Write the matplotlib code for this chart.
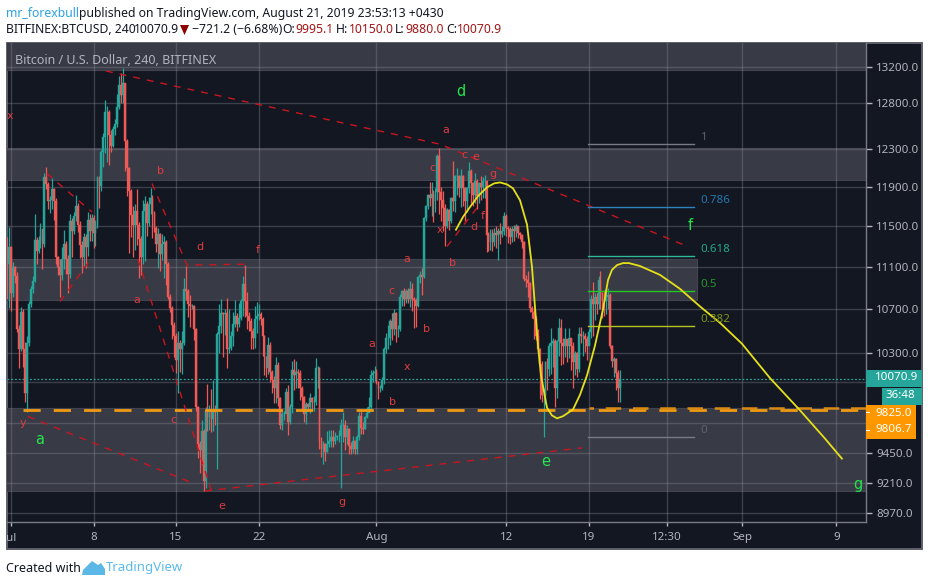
import matplotlib
matplotlib.use('Agg')
import matplotlib.pyplot as plt
from matplotlib.patches import Rectangle, Polygon
from matplotlib.ticker import FixedLocator, FixedFormatter, NullLocator
from matplotlib.transforms import Affine2D, Bbox

W, H = 929, 586
UI_FONT = 'Noto Sans'

# 4h closes, bar 0 is Jul 1 00:00, list starts two bars earlier
closes = [
    11130, 11290, 10850, 11100, 11010, 10520, 10340, 10680, 10340, 9950,
    10395, 10750, 10890, 10970, 11360, 11260, 11360, 11470, 11320, 12000,
    11930, 11750, 11760, 11880, 11750, 11195, 11100, 11025, 11175, 11320,
    11175, 11035, 11555, 11455, 11600, 11700, 11515, 11310, 11195, 11390,
    11290, 11565, 11455, 11585, 11435, 11515, 11985, 11910, 12260, 12420,
    12690, 12700, 12450, 12330, 12505, 12560, 12755, 12995, 12880, 13020,
    12380, 12090, 11860, 11610, 11515, 11650, 11515, 11370, 11195, 11650,
    11720, 11535, 11720, 11780, 11630, 11485, 11320, 11420, 11225, 11320,
    11340, 11130, 10820, 10710, 10560, 10460, 10240, 10395, 10340, 10395,
    10890, 10875, 10755, 10730, 10730, 10520, 9830, 9525, 9475, 9630,
    9220, 9795, 9745, 9795, 9730, 9795, 9790, 10475, 10545, 10665,
    10655, 10665, 10340, 10350, 10460, 10565, 10640, 10565, 10620, 10775,
    10940, 10775, 10640, 10590, 10500, 10440, 10610, 10640, 10655, 10610,
    10460, 10265, 10175, 10380, 10135, 10065, 9995, 10195, 9910, 9685,
    9770, 9770, 9960, 9705, 9830, 10150, 10110, 10135, 10125, 9995,
    9920, 9770, 9855, 9830, 9910, 9880, 9880, 10175, 10175, 9550,
    9480, 9525, 9460, 9525, 9550, 9580, 9550, 9580, 9590, 9590,
    9685, 9685, 9580, 9645, 9510, 9485, 9550, 9485, 9580, 9755,
    9660, 9645, 9745, 9785, 9830, 10110, 10125, 10135, 10050, 9995,
    9995, 10065, 10340, 10440, 10440, 10590, 10520, 10665, 10520, 10520,
    10820, 10875, 10800, 10875, 10800, 10895, 10800, 10790, 10730, 11005,
    11025, 11005, 11585, 11700, 11815, 11780, 11830, 11750, 11850, 12220,
    11850, 11760, 11680, 11500, 11665, 11550, 11780, 11750, 12010, 12010,
    11885, 12010, 11885, 11750, 11885, 12065, 11935, 11815, 11960, 11800,
    11935, 11900, 11960, 11960, 11415, 11340, 11435, 11340, 11435, 11415,
    11455, 11425, 11455, 11600, 11485, 11470, 11390, 11470, 11455, 11500,
    11435, 11415, 11340, 10990, 10975, 10945, 10710, 10680, 10610, 10460,
    10340, 10210, 9935, 9935, 10220, 10165, 10370, 10395, 10415, 9995,
    10415, 10530, 10395, 10370, 10430, 10370, 10440, 10370, 10220, 10300,
    10165, 10475, 10460, 10460, 10430, 10370, 10490, 10800, 10750, 10820,
    10755, 10975, 10845, 10790, 10775, 10820, 10835, 10370, 10235, 10250,
    10130, 9995.1, 10070.9,
]
highs = [
    11390, 11490, 11300, 11150, 11110, 11050, 10560, 10720, 10700, 10400,
    10460, 10780, 10920, 11010, 11620, 11390, 11400, 11530, 11400, 12040,
    12100, 11950, 11800, 11990, 11890, 11780, 11210, 11180, 11290, 11460,
    11350, 11220, 11620, 11580, 11640, 11810, 11730, 11550, 11350, 11430,
    11420, 11640, 11620, 11620, 11610, 11560, 12010, 12010, 12280, 12470,
    12830, 12760, 12720, 12500, 12540, 12620, 12900, 13100, 13130, 13186,
    13020, 12400, 12100, 11880, 11700, 11720, 11880, 11540, 11400, 11760,
    11800, 11750, 11790, 11890, 11810, 11650, 11500, 11480, 11430, 11420,
    11400, 11360, 11150, 10840, 10730, 10580, 10480, 10500, 10420, 10500,
    11000, 11110, 10890, 10830, 10750, 10740, 10530, 9840, 9550, 9720,
    9650, 9830, 10030, 9850, 9990, 10065, 9850, 10490, 10750, 10800,
    10680, 10700, 10810, 10700, 10500, 10680, 10790, 10670, 10760, 10800,
    11010, 11120, 10860, 10680, 10620, 10530, 10730, 10770, 10750, 10680,
    10630, 10470, 10280, 10450, 10400, 10150, 10100, 10270, 10220, 9920,
    9800, 9800, 10000, 10020, 9860, 10235, 10250, 10230, 10160, 10150,
    10010, 9930, 9880, 9870, 9950, 9920, 9930, 10255, 10190, 10180,
    9580, 9550, 9530, 9630, 9640, 9640, 9640, 9620, 9600, 9640,
    9730, 9790, 9720, 9680, 9660, 9540, 9590, 9560, 9600, 9790,
    9800, 9710, 9760, 9830, 9920, 10150, 10150, 10190, 10160, 10060,
    10020, 10090, 10360, 10480, 10560, 10610, 10670, 10700, 10680, 10560,
    10840, 10880, 10900, 10890, 10900, 10970, 10950, 10820, 10810, 11010,
    11060, 11090, 11590, 11710, 11830, 11950, 11950, 11870, 11890, 12240,
    12310, 11900, 11860, 11720, 11680, 11670, 11790, 12170, 12020, 12090,
    12020, 12080, 12020, 11900, 11900, 12160, 12080, 11950, 12040, 11980,
    11950, 12010, 12000, 12020, 11970, 11440, 11470, 11470, 11480, 11500,
    11480, 11530, 11500, 11640, 11620, 11500, 11490, 11500, 11510, 11520,
    11500, 11440, 11420, 11350, 11020, 11060, 10960, 10730, 10700, 10640,
    10520, 10350, 10230, 10000, 10230, 10260, 10390, 10530, 10440, 10430,
    10420, 10620, 10610, 10440, 10530, 10410, 10530, 10440, 10400, 10320,
    10310, 10540, 10540, 10500, 10480, 10460, 10520, 10830, 10960, 10850,
    10850, 11010, 11060, 10860, 10880, 10890, 10900, 10850, 10380, 10270,
    10260, 10150, 10150,
]
lows = [
    10800, 10710, 10690, 10820, 10950, 10490, 10170, 10320, 10180, 9880,
    9790, 10370, 10720, 10850, 10960, 11130, 11240, 11280, 11080, 11290,
    11880, 11670, 11630, 11670, 11560, 11130, 11020, 10820, 10980, 11080,
    11030, 10850, 11000, 11200, 11420, 11550, 11440, 11190, 11040, 11110,
    11090, 11210, 11350, 11350, 11280, 11300, 11480, 11680, 11860, 12110,
    12250, 12160, 12130, 12260, 12320, 12450, 12530, 12730, 12800, 12800,
    12060, 11800, 11240, 11390, 11200, 11270, 11310, 11000, 11020, 11130,
    11160, 11400, 11500, 11620, 11380, 11440, 11250, 11090, 11060, 11170,
    11000, 10930, 10800, 10680, 10430, 10270, 10130, 9950, 10140, 10120,
    10380, 10790, 10630, 10540, 10700, 10420, 9800, 9410, 9290, 9350,
    9140, 9170, 9630, 9640, 9620, 9630, 9680, 9320, 10300, 10480,
    10270, 10470, 10170, 10300, 10330, 10370, 10540, 10500, 10540, 10600,
    10640, 10630, 10520, 10500, 10340, 10340, 10350, 10480, 10600, 10560,
    10280, 10110, 10090, 10120, 10050, 9950, 9870, 9870, 9840, 9645,
    9640, 9720, 9780, 9600, 9690, 9780, 9980, 10000, 10000, 9890,
    9820, 9710, 9690, 9800, 9780, 9820, 9800, 9850, 10000, 9480,
    9420, 9360, 9380, 9460, 9500, 9500, 9500, 9520, 9560, 9540,
    9165, 9540, 9470, 9520, 9440, 9440, 9450, 9440, 9440, 9560,
    9610, 9610, 9650, 9740, 9790, 9800, 10050, 10060, 10030, 9900,
    9960, 9980, 10030, 10300, 10340, 10380, 10420, 10470, 10400, 10450,
    10500, 10730, 10730, 10760, 10760, 10720, 10690, 10530, 10540, 10720,
    10950, 10830, 11000, 11550, 11670, 11700, 11600, 11540, 11640, 11760,
    11620, 11550, 11450, 11300, 11480, 11460, 11530, 11650, 11640, 11810,
    11790, 11690, 11700, 11550, 11640, 11840, 11730, 11700, 11730, 11670,
    11730, 11760, 11780, 11780, 11250, 11260, 11270, 11260, 11300, 11280,
    11170, 11320, 11390, 11410, 11400, 11330, 11320, 11340, 11350, 11390,
    11380, 11370, 11280, 10970, 10910, 10820, 10680, 10620, 10430, 10420,
    10300, 9900, 9880, 9580, 9860, 9980, 10100, 10120, 10180, 9830,
    9910, 10280, 10200, 10210, 10270, 10220, 10260, 10150, 10000, 10110,
    10090, 10140, 10390, 10280, 10310, 10240, 10380, 10440, 10460, 10600,
    10660, 10700, 10700, 10620, 10640, 10660, 10700, 10350, 10180, 10090,
    9980, 9880, 9880,
]
first_open = 11290

# grey zones: low price, high price, last day
zone_lows = [13166, 11970, 10790, 9140]
zone_highs = [13600, 12310, 11175, 9825]
zone_ends = [72.6, 72.6, 58.2, 72.6]

# dashed red wave lines
trend_days = [
    [8.06, 36.39, 57.17],
    [3.05, 6.87],
    [4.16, 6.53],
    [11.96, 14.93, 20.02],
    [10.77, 17.05],
    [1.44, 15.44],
    [16.45, 48.43],
    [36.98, 39.52],
]
trend_prices = [
    [13154, 12346, 11310],
    [12035, 11642],
    [10774, 11138],
    [11933, 11119, 11128],
    [11176, 9127],
    [9753, 9205],
    [9143, 9491],
    [11300, 11682],
]

# yellow hand drawn curve
curve_days = [37.74, 38.34, 38.93, 39.61, 40.37, 40.97, 41.48, 42.07, 42.58, 43.17,
              43.77, 44.19, 44.44, 44.70, 44.95, 45.46, 45.88, 46.31, 46.82, 47.67,
              48.26, 48.86, 49.53, 50.21, 50.64, 50.97, 51.40, 51.91, 52.42, 53.35,
              55.05, 56.74, 58.44, 60.14, 62.0, 64.38, 66.93, 69.04, 70.48]
curve_prices = [11465, 11593, 11692, 11803, 11893, 11934, 11944, 11924, 11883, 11762,
                11515, 11100, 10728, 10369, 10108, 9828, 9762, 9737, 9755, 9812,
                9937, 10108, 10369, 10700, 10977, 11072, 11119, 11138, 11138, 11110,
                11025, 10893, 10728, 10576, 10387, 10082, 9804, 9568, 9403]

fib_labels = ['1', '0.786', '0.618', '0.5', '0.382', '0']
fib_prices = [12345, 11693, 11209, 10875, 10545, 9580]
fib_line_colors = ['#787b86', '#2b83ba', '#2fb89a', '#22c722', '#b4c41e', '#787b86']
fib_text_colors = ['#5f626c', '#2478ad', '#23a884', '#26962c', '#7f9418', '#5f626c']
fib_start, fib_end = 48.95, 57.9

last_close = 10070.9
stop_low = 9806.7
stop_high = 9825.0

price_ticks = [13200, 12800, 12300, 11900, 11500, 11100, 10700, 10300, 10050, 9700, 9450, 9210, 8970]
date_ticks = [0, 7, 14, 21, 31, 42, 49, 55.65, 62, 70]
date_labels = ['Jul', '8', '15', '22', 'Aug', '12', '19', '12:30', 'Sep', '9']

# wave labels, pixel position on the picture
red_waves = [('x', 10, 116), ('b', 161, 171), ('a', 137, 300), ('d', 200, 247), ('f', 258, 250),
             ('y', 23, 423), ('c', 173, 420), ('e', 222, 506), ('g', 342, 502), ('a', 372, 344),
             ('c', 391, 291), ('a', 407, 259), ('b', 427, 329), ('x', 407, 367), ('b', 393, 402),
             ('b', 452, 263), ('c', 432, 168), ('a', 446, 130), ('c', 464, 155), ('e', 476, 157),
             ('g', 493, 174), ('x', 440, 230), ('f', 483, 216), ('d', 474, 227)]
green_waves = [('d', 461, 91), ('a', 40, 439), ('e', 546, 461), ('f', 690, 226), ('g', 858, 484),
               ('e', 369, 527)]

BG = '#131722'
TEAL = '#26a69a'
RED = '#f05a56'
ORANGE = '#ff9800'
AXIS_TEXT = '#b2b5be'

fig = plt.figure(figsize=(W / 100, H / 100), dpi=100, facecolor='white')
pix = Affine2D().scale(1, -1).translate(0, H)  # picture pixels, origin top left


def page_text(x, y, s, **kw):
    kw.setdefault('family', UI_FONT)
    kw.setdefault('va', 'center')
    return fig.text(x, y, s, transform=pix, **kw)


fig.add_artist(Rectangle((6.5, 43), 915.5, 506, transform=pix, facecolor=BG,
                         edgecolor='#5d606b', linewidth=1.4, zorder=-1))

ax = fig.add_axes([7 / W, 1 - 522 / H, 859 / W, 479 / H])
ax.set_facecolor('none')
ax.set_yscale('log')
ax.set_xlim(-0.339, 72.52)
ax.set_ylim(8901, 13477)

for low, high, end in zip(zone_lows, zone_highs, zone_ends):
    ax.add_patch(Rectangle((-1, low), end + 1, high - low, facecolor='#383b45',
                           edgecolor='#42454f', linewidth=0.8, zorder=1))

ax.set_axisbelow('line')
ax.grid(True, color='#8a8d9a', alpha=0.35, linewidth=1)

ax.yaxis.tick_right()
ax.yaxis.set_major_locator(FixedLocator(price_ticks))
ax.yaxis.set_major_formatter(FixedFormatter(['%.1f' % p for p in price_ticks]))
ax.yaxis.set_minor_locator(NullLocator())
ax.xaxis.set_major_locator(FixedLocator(date_ticks))
ax.xaxis.set_major_formatter(FixedFormatter(date_labels))
ax.tick_params(axis='y', length=4, width=1, color=AXIS_TEXT, labelcolor=AXIS_TEXT, labelsize=8.3, pad=3.5)
ax.tick_params(axis='x', length=3, width=1, color=AXIS_TEXT, labelcolor=AXIS_TEXT, labelsize=8.3, pad=4.5)
for lab in ax.get_xticklabels() + ax.get_yticklabels():
    lab.set_family(UI_FONT)
# 'Jul' is cut by the chart frame
for lab in ax.get_xticklabels():
    lab.set_clip_on(True)
    lab.set_clip_box(Bbox([[7, 0], [W, H]]))
for side in ['top', 'left']:
    ax.spines[side].set_visible(False)
for side in ['right', 'bottom']:
    ax.spines[side].set_color('#787b86')
    ax.spines[side].set_linewidth(1)

# candles
days = [(i - 2) / 6 for i in range(len(closes))]
opens = [first_open] + closes[:-1]
colors = [TEAL if c >= o else RED for o, c in zip(opens, closes)]
ax.vlines(days, lows, highs, colors=colors, linewidth=0.9, zorder=3)
ax.bar(days, [abs(c - o) for o, c in zip(opens, closes)], bottom=[min(o, c) for o, c in zip(opens, closes)],
       width=0.155, color=colors, edgecolor=colors, linewidth=0.3, zorder=3)

# last price and stop levels
ax.axhline(last_close, color=TEAL, linewidth=0.9, linestyle=(0, (1.5, 1.5)), zorder=2)
ax.plot([1.0, 72.6], [stop_low, stop_low], color='#ef9a12', linewidth=2,
        linestyle=(0, (6.2, 4.7)), zorder=4)
ax.plot([49.0, 72.6], [stop_high, stop_high], color='#d98a14', linewidth=1.8,
        linestyle=(4.4, (6.2, 4.7)), zorder=4)

for d, p in zip(trend_days, trend_prices):
    ax.plot(d, p, color='#c9151e', linewidth=1, linestyle=(0, (5, 5)), zorder=4)

ax.plot(curve_days, curve_prices, color='#e6e01a', linewidth=1.3, zorder=5)

for name, p, lc, tc in zip(fib_labels, fib_prices, fib_line_colors, fib_text_colors):
    ax.plot([fib_start, fib_end], [p, p], color=lc, linewidth=1, zorder=4)
    ax.text(fib_end + 0.6, p * 1.0055, name, color=tc, fontsize=8.3, family=UI_FONT,
            weight='bold', va='center', ha='left', zorder=5)

for s, x, y in red_waves:
    ax.text(x, y, s, transform=pix, color='#df3b3f', fontsize=8, ha='center', va='center',
            zorder=6, clip_on=True)
for s, x, y in green_waves:
    ax.text(x, y, s, transform=pix, color='#22e64a', fontsize=10.5, ha='center', va='center',
            zorder=6, clip_on=True)

ax.text(15, 60, 'Bitcoin / U.S. Dollar, 240, BITFINEX', transform=pix, color=AXIS_TEXT, fontsize=9,
        family=UI_FONT, weight='medium', va='center', zorder=7)

# price tags on the axis
fig.add_artist(Rectangle((866, 370), 56, 17, transform=pix, facecolor=TEAL, edgecolor='none', zorder=5))
fig.add_artist(Rectangle((882, 388), 40, 17, transform=pix, facecolor=TEAL, edgecolor='none', zorder=5))
fig.add_artist(Rectangle((866, 405), 50, 34, transform=pix, facecolor=ORANGE, edgecolor='none', zorder=5))
fig.add_artist(Rectangle((866, 412), 4, 1.2, transform=pix, facecolor='white', edgecolor='none', zorder=6))
fig.add_artist(Rectangle((866, 430), 4, 1.2, transform=pix, facecolor='white', edgecolor='none', zorder=6))
for x, y, s in [(875, 378, '10070.9'), (886, 396, '36:48'), (875, 413, '9825.0'), (875, 430, '9806.7')]:
    page_text(x, y, s, color='white', fontsize=8.3, weight='bold', zorder=7)

# header
page_text(6, 13, 'mr_forexbull', color='#2aa3e0', fontsize=8.8, zorder=7)
page_text(79, 13, 'published on TradingView.com, August 21, 2019 23:53:13 +0430', color='#131722',
          fontsize=8.8, zorder=7)
page_text(6, 29.5, 'BITFINEX:BTCUSD, 240', color='#131722', fontsize=8.8, weight='bold', zorder=7)
page_text(134, 29.5, '10070.9', color='#131722', fontsize=8.8, zorder=7)
fig.add_artist(Polygon([(180, 25), (189, 25), (184.5, 35)], closed=True, transform=pix,
                       facecolor='#8b0000', edgecolor='none', zorder=7))
page_text(192, 29.5, '\u2212721.2 (\u22126.68%)', color='#131722', fontsize=8.8, zorder=7)
for x, s in [(282, 'O:'), (336, 'H:'), (395, 'L:'), (446, 'C:')]:
    page_text(x, 29.5, s, color='#131722', fontsize=8.8, weight='bold', zorder=7)
for x, s in [(295, '9995.1'), (349, '10150.0'), (405, '9880.0'), (457, '10070.9')]:
    page_text(x, 29.5, s, color='#a31515', fontsize=8.8, zorder=7)

# footer
page_text(6, 568, 'Created with', color='#131722', fontsize=9, zorder=7)
fig.add_artist(Polygon([(82, 575), (83, 570), (92, 561), (98, 565), (101, 563), (105, 569), (105, 575)],
                       closed=True, transform=pix, facecolor='#5bb8e6', edgecolor='none', zorder=7))
page_text(106, 568, 'TradingView', color='#5cbcec', fontsize=9.5, zorder=7)

fig.savefig('out.png', dpi=100, facecolor='white')
